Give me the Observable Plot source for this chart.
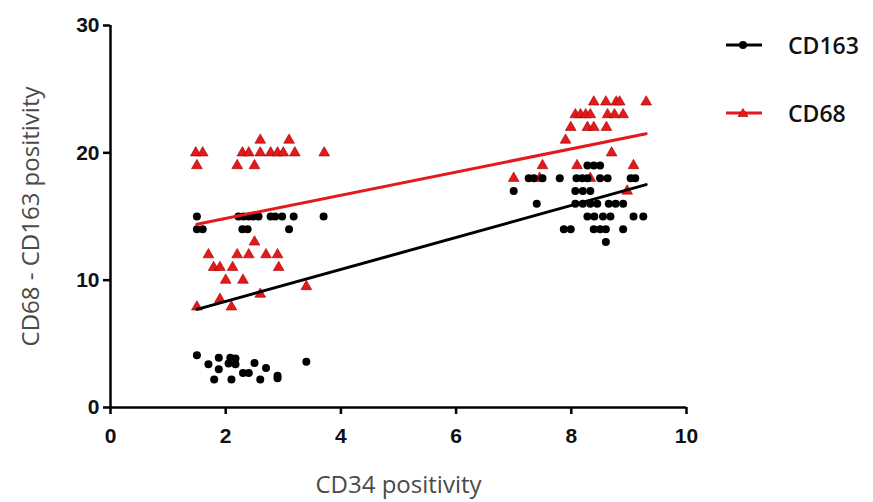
<!DOCTYPE html>
<html>
<head>
<meta charset="utf-8">
<script src="https://cdn.jsdelivr.net/npm/d3@7"></script>
<script src="https://cdn.jsdelivr.net/npm/@observablehq/plot@0.6"></script>
<style>
  html, body { margin: 0; padding: 0; background: #fff; }
  #wrap { position: relative; width: 873px; height: 502px; }
  #legend { position: absolute; left: 722px; top: 0; font-family: "Open Sans", sans-serif; font-size: 23px; font-weight: 600; color: #111; }
  .item { position: absolute; left: 0; display: flex; align-items: center; white-space: nowrap; }
  .item svg { margin-right: 22px; }
</style>
</head>
<body>
<div id="wrap"><div id="legend"></div></div>
<script>
// ---- data ----
const seriesNames = ["CD163", "CD68"];
const seriesColors = ["#000000", "#e3191b"];

const cd163X = [
  1.5, 2.22, 2.31, 2.4, 2.48, 2.57, 2.78, 2.86, 2.98, 3.18, 3.7,
  1.5, 1.6, 2.29, 2.38, 3.1,
  1.5, 1.7, 1.88, 1.88, 2.08, 2.17, 2.05, 2.17, 1.8, 2.1, 2.3, 2.4, 2.5, 2.7, 2.6, 2.9, 2.9, 3.4,
  8.28, 8.39, 8.5,
  7.26, 7.35, 7.5, 7.8, 8.09, 8.19, 8.28, 8.5, 8.63, 9.03, 9.11,
  7.0, 8.07, 8.2, 8.33,
  7.4, 8.07, 8.2, 8.33, 8.45, 8.65, 8.77, 8.9,
  8.28, 8.4, 8.55, 8.68, 9.08, 9.25,
  7.87, 7.99, 8.39, 8.5, 8.6, 8.9,
  8.6
];
const cd163Y = [
  15, 15, 15, 15, 15, 15, 15, 15, 15, 15, 15,
  14, 14, 14, 14, 14,
  4.1, 3.4, 3.9, 3.0, 3.9, 3.85, 3.45, 3.4, 2.2, 2.2, 2.7, 2.7, 3.5, 3.1, 2.2, 2.5, 2.3, 3.6,
  19, 19, 19,
  18, 18, 18, 18, 18, 18, 18, 18, 18, 18, 18,
  17, 17, 17, 17,
  16, 16, 16, 16, 16, 16, 16, 16,
  15, 15, 15, 15, 15, 15,
  14, 14, 14, 14, 14, 14,
  13
];

const cd68X = [
  2.6, 3.1,
  1.48, 1.6, 2.29, 2.4, 2.6, 2.78, 2.9, 3.0, 3.2, 3.71,
  1.5, 2.2, 2.5,
  2.5,
  1.7, 2.2, 2.4, 2.7, 2.9,
  1.79, 1.9, 2.12, 2.92,
  2.0, 2.3,
  3.4, 2.6, 1.9, 1.5, 2.1,
  8.39, 8.6, 8.78, 8.84, 9.3,
  8.07, 8.16, 8.25, 8.33, 8.63, 8.75, 8.9,
  7.99, 8.28, 8.39, 8.61,
  7.9,
  8.7,
  7.5, 8.1, 9.08,
  7.0, 7.45, 8.33,
  8.97
];
const cd68Y = [
  21, 21,
  20, 20, 20, 20, 20, 20, 20, 20, 20, 20,
  19, 19, 19,
  13,
  12, 12, 12, 12, 12,
  11, 11, 11, 11,
  10, 10,
  9.5, 8.9, 8.5, 7.9, 7.9,
  24, 24, 24, 24, 24,
  23, 23, 23, 23, 23, 23, 23,
  22, 22, 22, 22,
  21,
  20,
  19, 19, 19,
  18, 18, 18,
  17
];

// linear fits (slope, intercept) and x-range of each fit
const fitSlope = [1.256, 0.91];
const fitIntercept = [5.82, 13.03];
const fitRange = [1.5, 9.3];

const xTicks = [0, 2, 4, 6, 8, 10];
const yTicks = [0, 10, 20, 30];
const xLabel = "CD34 positivity";
const yLabel = "CD68 - CD163 positivity";

// ---- build tables ----
const cd163 = cd163X.map((x, i) => ({x, y: cd163Y[i]}));
const cd68 = cd68X.map((x, i) => ({x, y: cd68Y[i]}));
const fits = seriesNames.flatMap((s, i) =>
  fitRange.map(x => ({series: s, x, y: fitSlope[i] * x + fitIntercept[i]})));

const tickFont = {fontFamily: "Liberation Sans, Arial, sans-serif", fontWeight: "bold", fontSize: 21, fill: "#111"};
const titleFont = {fontFamily: "Open Sans, sans-serif", fontSize: 24, fill: "#4a4a4a"};

const chart = Plot.plot({
  width: 720,
  height: 502,
  marginLeft: 110,
  marginRight: 34,
  marginTop: 25,
  marginBottom: 95,
  style: {background: "transparent", overflow: "visible"},
  x: {domain: [0, 10]},
  y: {domain: [0, 30]},
  color: {domain: seriesNames, range: seriesColors},
  marks: [
    Plot.axisY({ticks: yTicks, tickSize: 7, strokeWidth: 2.5, tickFormat: () => "", label: null}),
    Plot.axisX({ticks: xTicks, tickSize: 7, strokeWidth: 2.5, tickFormat: () => "", label: null}),
    Plot.text(yTicks, {y: d => d, x: 0, text: d => String(d), dx: -11, textAnchor: "end", lineAnchor: "middle", ...tickFont}),
    Plot.text(xTicks, {x: d => d, y: 0, text: d => String(d), dy: 29, textAnchor: "middle", lineAnchor: "middle", ...tickFont}),
    Plot.ruleX([0], {y1: 0, y2: 30, strokeWidth: 2.5, stroke: "#000"}),
    Plot.ruleY([0], {x1: 0, x2: 10, strokeWidth: 2.5, stroke: "#000"}),
    Plot.dot(cd68, {x: "x", y: "y", symbol: "triangle", r: 4, fill: seriesColors[1], stroke: "#a30000", strokeWidth: 0.6}),
    Plot.dot(cd163, {x: "x", y: "y", r: 4, fill: "#000", stroke: "none"}),
    Plot.line(fits, {x: "x", y: "y", z: "series", stroke: "series", strokeWidth: 3}),
    Plot.text([yLabel], {text: d => d, frameAnchor: "left", rotate: -90, textAnchor: "middle", lineAnchor: "middle", dx: -79, ...titleFont}),
    Plot.text([xLabel], {text: d => d, frameAnchor: "bottom", textAnchor: "middle", lineAnchor: "middle", dy: 78, ...titleFont})
  ]
});
document.getElementById("wrap").prepend(chart);

// legend
const legend = document.getElementById("legend");
const legendTops = [43, 111];
seriesNames.forEach((name, i) => {
  const item = document.createElement("div");
  item.className = "item";
  item.style.top = (legendTops[i] - 14) + "px";
  const sym = i === 0
    ? `<circle cx="21" cy="14" r="4" fill="${seriesColors[i]}"/>`
    : `<path d="M21,9.5 L26,17.5 L16,17.5 Z" fill="${seriesColors[i]}" stroke="#a30000" stroke-width="0.6"/>`;
  item.innerHTML = `<svg width="44" height="28"><line x1="4" x2="40" y1="14" y2="14" stroke="${seriesColors[i]}" stroke-width="3"/>${sym}</svg><span>${name}</span>`;
  legend.appendChild(item);
});
</script>
</body>
</html>
